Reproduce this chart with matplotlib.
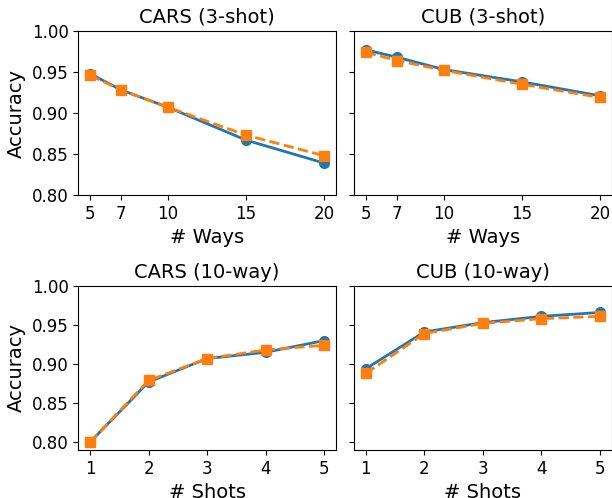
import matplotlib
matplotlib.use("Agg")
import matplotlib.pyplot as plt


# Data
ways = [5, 7, 10, 15, 20]
shots = [1, 2, 3, 4, 5]

cars_ways_a = [0.948, 0.928, 0.907, 0.867, 0.839]
cars_ways_b = [0.946, 0.928, 0.907, 0.873, 0.848]
cub_ways_a = [0.977, 0.968, 0.953, 0.938, 0.921]
cub_ways_b = [0.974, 0.964, 0.952, 0.935, 0.919]

cars_shots_a = [0.800, 0.877, 0.907, 0.915, 0.930]
cars_shots_b = [0.800, 0.879, 0.907, 0.918, 0.924]
cub_shots_a = [0.894, 0.941, 0.953, 0.961, 0.966]
cub_shots_b = [0.888, 0.939, 0.952, 0.958, 0.961]

panels = [
    ("CARS (3-shot)", ways, cars_ways_a, cars_ways_b, "# Ways"),
    ("CUB (3-shot)", ways, cub_ways_a, cub_ways_b, "# Ways"),
    ("CARS (10-way)", shots, cars_shots_a, cars_shots_b, "# Shots"),
    ("CUB (10-way)", shots, cub_shots_a, cub_shots_b, "# Shots"),
]

fig, axes = plt.subplots(2, 2, figsize=(6.12, 4.98), dpi=100, sharey="row")
fig.subplots_adjust(left=0.128, right=0.9995, top=0.9378, bottom=0.0964,
                    wspace=0.071, hspace=0.553)

for ax, (title, x, a, b, xlabel) in zip(axes.flat, panels):
    ax.plot(x, a, "-o", color="tab:blue", lw=2, ms=7)
    ax.plot(x, b, "--s", color="tab:orange", lw=2, ms=7)
    ax.set_title(title, fontsize=14)
    ax.set_xlabel(xlabel, fontsize=14)
    ax.set_xticks(x)
    ax.tick_params(labelsize=12)

axes[0, 0].set_ylim(0.8, 1.0)
axes[1, 0].set_ylim(0.79, 1.0)
for ax in axes[:, 0]:
    ax.set_yticks([0.80, 0.85, 0.90, 0.95, 1.00])
    ax.set_ylabel("Accuracy", fontsize=14)

fig.savefig("out.png", dpi=100)
